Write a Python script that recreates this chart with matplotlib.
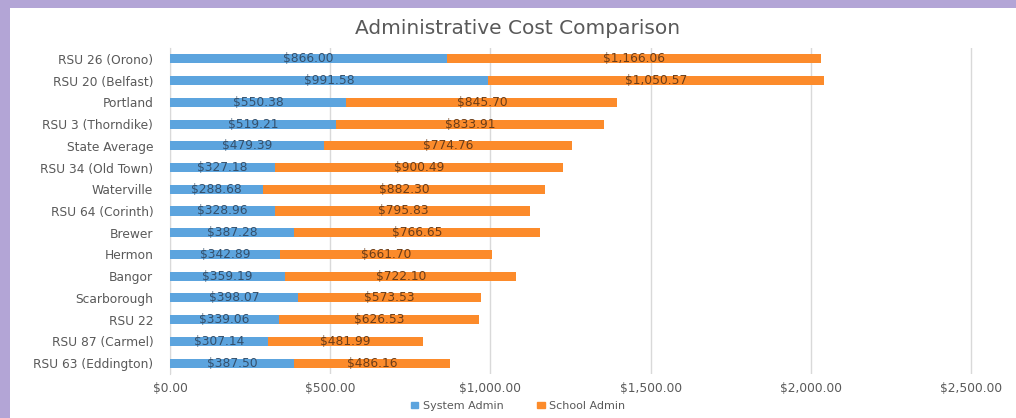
import matplotlib.pyplot as plt
from matplotlib.patches import Rectangle, Patch
from matplotlib.ticker import FuncFormatter

categories = ['RSU 26 (Orono)', 'RSU 20 (Belfast)', 'Portland', 'RSU 3 (Thorndike)',
              'State Average', 'RSU 34 (Old Town)', 'Waterville', 'RSU 64 (Corinth)',
              'Brewer', 'Hermon', 'Bangor', 'Scarborough', 'RSU 22', 'RSU 87 (Carmel)',
              'RSU 63 (Eddington)']
system_admin = [866.00, 991.58, 550.38, 519.21, 479.39, 327.18, 288.68, 328.96,
                387.28, 342.89, 359.19, 398.07, 339.06, 307.14, 387.50]
school_admin = [1166.06, 1050.57, 845.70, 833.91, 774.76, 900.49, 882.30, 795.83,
                766.65, 661.70, 722.10, 573.53, 626.53, 481.99, 486.16]
x_ticks = [0, 500, 1000, 1500, 2000, 2500]

plt.rcParams['font.family'] = ['DejaVu Sans']

BLUE = '#5CA4DE'
ORANGE = '#FC8B2B'
GREY = '#595959'


def money(v):
  return '${:,.2f}'.format(v)


fig = plt.figure(figsize=(10.16, 4.18), dpi=100)
fig.patch.set_facecolor('white')

# purple frame at top and left
fig.patches.append(Rectangle((0, 1 - 8 / 418), 1, 8 / 418, transform=fig.transFigure,
                             facecolor='#B3A5D6', edgecolor='none', zorder=0))
fig.patches.append(Rectangle((0, 0), 10 / 1016, 1, transform=fig.transFigure,
                             facecolor='#B3A5D6', edgecolor='none', zorder=0))

ax = fig.add_axes([170 / 1016, 1 - 374 / 418, (973 - 170) / 1016, (374 - 48) / 418])

ypos = list(range(len(categories)))
bh = 0.42
ax.barh(ypos, system_admin, height=bh, color=BLUE, zorder=3)
ax.barh(ypos, school_admin, left=system_admin, height=bh, color=ORANGE, zorder=3)

for y, s, c in zip(ypos, system_admin, school_admin):
  ax.text(s / 2, y, money(s), ha='center', va='center', fontsize=8.8,
          color='#34506c', zorder=4)
  ax.text(s + c / 2, y, money(c), ha='center', va='center', fontsize=8.8,
          color='#6b3d18', zorder=4)

ax.set_xlim(0, 2506)
ax.set_ylim(len(categories) - 0.5, -0.5)
ax.set_yticks(ypos)
ax.set_yticklabels(categories)
ax.set_xticks(x_ticks)
ax.xaxis.set_major_formatter(FuncFormatter(lambda v, p: money(v)))
ax.tick_params(axis='both', length=0, labelsize=8.8, colors=GREY)
ax.tick_params(axis='x', pad=6)
ax.tick_params(axis='y', pad=12)
ax.grid(axis='x', color='#D9D9D9', linewidth=1, zorder=0)
for side in ['top', 'right', 'bottom']:
  ax.spines[side].set_visible(False)
ax.spines['left'].set_color('#D9D9D9')

fig.text(518 / 1016, 1 - 28 / 418, 'Administrative Cost Comparison', ha='center', va='center',
         fontsize=14.5, color=GREY)

handles = [Patch(color=BLUE, label='System Admin'), Patch(color=ORANGE, label='School Admin')]
fig.legend(handles=handles, loc='center', bbox_to_anchor=(518 / 1016, 1 - 406 / 418), ncol=2,
           frameon=False, fontsize=8, labelcolor=GREY, handlelength=0.7,
           handleheight=0.5, handletextpad=0.4, columnspacing=3.0)

fig.savefig('out.png', dpi=100, facecolor='white')
